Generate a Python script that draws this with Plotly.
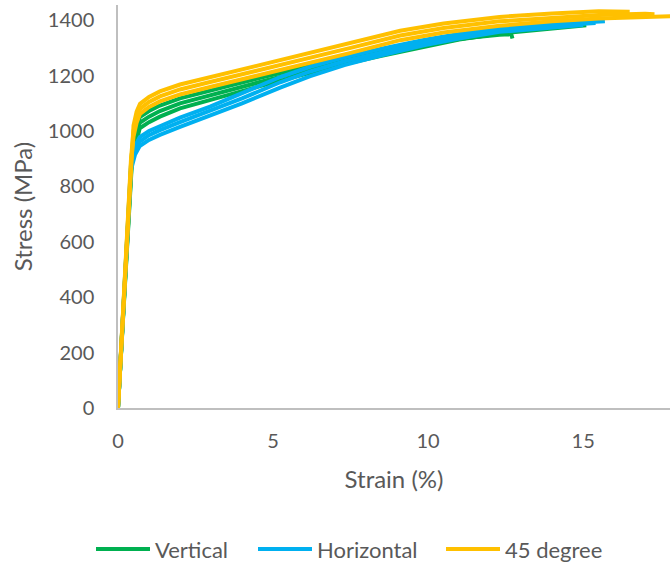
import plotly.graph_objects as go

# ---- Data (strain %, stress MPa) ----
# Vertical specimens (green)
vert_a_strain = [0, 0.45, 0.55, 0.7, 1.0, 1.35, 2.0, 2.97, 4.58, 6.19, 7.3, 8.5, 9.9, 11.0, 12.3, 12.68, 12.72]
vert_a_stress = [0, 920, 985, 1050, 1072, 1092, 1118, 1147, 1192, 1235, 1262, 1288, 1314, 1333, 1348, 1350, 1334]
vert_b_strain = [0, 0.45, 0.55, 0.7, 1.0, 1.35, 2.0, 2.97, 4.58, 6.19, 7.3, 8.5, 9.9, 11.0, 12.3, 13.2, 13.9]
vert_b_stress = [0, 905, 962, 1030, 1052, 1072, 1100, 1130, 1177, 1222, 1252, 1280, 1309, 1332, 1352, 1366, 1372]
vert_c_strain = [0, 0.45, 0.55, 0.7, 1.0, 1.35, 2.0, 2.97, 4.58, 6.19, 7.3, 8.5, 9.9, 11.0, 12.3, 14.0, 15.1]
vert_c_stress = [0, 890, 940, 1010, 1032, 1052, 1082, 1113, 1162, 1210, 1242, 1272, 1304, 1330, 1352, 1372, 1382]

# Horizontal specimens (blue)
hor_a_strain = [0, 0.42, 0.55, 0.7, 1.0, 1.35, 2.0, 2.97, 4.0, 5.23, 6.2, 7.3, 8.5, 9.9, 11.0, 12.3, 14.0, 15.0, 15.7]
hor_a_stress = [0, 880, 945, 978, 1000, 1018, 1048, 1088, 1135, 1195, 1232, 1266, 1297, 1330, 1350, 1370, 1386, 1391, 1396]
hor_b_strain = [0, 0.42, 0.55, 0.7, 1.0, 1.35, 2.0, 2.97, 4.0, 5.23, 6.2, 7.3, 8.5, 9.9, 11.0, 12.3, 14.0, 15.4]
hor_b_stress = [0, 870, 930, 962, 985, 1003, 1032, 1072, 1118, 1176, 1215, 1252, 1285, 1320, 1342, 1364, 1380, 1390]
hor_c_strain = [0, 0.42, 0.55, 0.7, 1.0, 1.35, 2.0, 2.97, 4.0, 5.23, 6.2, 7.3, 8.5, 9.9, 11.0, 12.3, 14.0, 15.0]
hor_c_stress = [0, 860, 915, 946, 968, 986, 1015, 1055, 1100, 1157, 1198, 1238, 1273, 1310, 1334, 1358, 1375, 1383]

# 45 degree specimens (yellow)
deg_a_strain = [0, 0.42, 0.5, 0.6, 0.71, 1.0, 1.35, 2.0, 2.97, 4.58, 6.19, 7.5, 9.1, 10.5, 12.3, 14.0, 15.5, 16.5]
deg_a_stress = [0, 915, 1020, 1070, 1098, 1123, 1143, 1168, 1195, 1238, 1284, 1318, 1362, 1388, 1412, 1424, 1432, 1431]
deg_b_strain = [0, 0.42, 0.5, 0.6, 0.71, 1.0, 1.35, 2.0, 2.97, 4.58, 6.19, 7.5, 9.1, 10.5, 12.3, 14.0, 15.5, 17.0, 17.3]
deg_b_stress = [0, 900, 1000, 1050, 1080, 1105, 1125, 1150, 1177, 1220, 1266, 1300, 1345, 1372, 1396, 1410, 1419, 1423, 1422]
deg_c_strain = [0, 0.42, 0.5, 0.6, 0.71, 1.0, 1.35, 2.0, 2.97, 4.58, 6.19, 7.5, 9.1, 10.5, 12.3, 14.0, 15.5, 17.0, 17.9]
deg_c_stress = [0, 885, 980, 1030, 1062, 1087, 1107, 1132, 1159, 1202, 1248, 1282, 1328, 1356, 1380, 1396, 1406, 1413, 1415]

x_ticks = [0, 5, 10, 15]
y_ticks = [0, 200, 400, 600, 800, 1000, 1200, 1400]

GREEN = "#00B050"
BLUE = "#00B0F0"
YELLOW = "#FFC000"

groups = [
    ("Vertical", GREEN, [(vert_a_strain, vert_a_stress), (vert_b_strain, vert_b_stress), (vert_c_strain, vert_c_stress)]),
    ("Horizontal", BLUE, [(hor_a_strain, hor_a_stress), (hor_b_strain, hor_b_stress), (hor_c_strain, hor_c_stress)]),
    ("45 degree", YELLOW, [(deg_a_strain, deg_a_stress), (deg_b_strain, deg_b_stress), (deg_c_strain, deg_c_stress)]),
]

W, H = 671, 564
ML, MR, MT, MB = 118, 1, 5, 156
PW, PH = W - ML - MR, H - MT - MB

fig = go.Figure()
for name, color, specs in groups:
    for i, (xs, ys) in enumerate(specs):
        fig.add_trace(go.Scatter(
            x=xs, y=ys, mode="lines", name=name, legendgroup=name,
            showlegend=False,
            line=dict(color=color, width=4),
        ))

FONT = "Lato, 'Open Sans', sans-serif"
GRAY = "#595959"
AXIS = "#BFBFBF"

# Custom legend (long line samples like the original)
def px_x(px):
    return (px - ML) / PW

def px_y(py):
    return (H - MB - py) / PH

legend_items = [("Vertical", GREEN, 96, 150), ("Horizontal", BLUE, 258, 312), ("45 degree", YELLOW, 446, 500)]
legend_y = 549
shapes = []
annotations = []
for name, color, x0, x1 in legend_items:
    shapes.append(dict(type="line", xref="paper", yref="paper",
                       x0=px_x(x0), x1=px_x(x1), y0=px_y(legend_y), y1=px_y(legend_y),
                       line=dict(color=color, width=4)))
    annotations.append(dict(text=name, xref="paper", yref="paper",
                            x=px_x(x1 + 3), y=px_y(legend_y), xanchor="left", yanchor="middle",
                            showarrow=False, font=dict(family=FONT, size=22, color=GRAY)))

fig.update_layout(
    width=W, height=H,
    margin=dict(l=ML, r=MR, t=MT, b=MB),
    paper_bgcolor="white", plot_bgcolor="white",
    font=dict(family=FONT, size=20, color=GRAY),
    showlegend=False,
    shapes=shapes,
    annotations=annotations,
    xaxis=dict(range=[0, 17.8], tickvals=x_ticks, ticktext=[str(v) for v in x_ticks],
               showgrid=False, zeroline=False, showline=True, linecolor=AXIS, linewidth=1.5,
               ticks="", ticklabelstandoff=14,
               title=dict(text="Strain (%)", standoff=20, font=dict(size=24, color=GRAY, family=FONT))),
    yaxis=dict(range=[0, 1455], tickvals=y_ticks, ticktext=[str(v) for v in y_ticks],
               showgrid=False, zeroline=False, showline=True, linecolor=AXIS, linewidth=1.5,
               ticks="", ticklabelstandoff=18,
               title=dict(text="Stress (MPa)", standoff=8, font=dict(size=24, color=GRAY, family=FONT))),
)

fig.write_html("out.html")
